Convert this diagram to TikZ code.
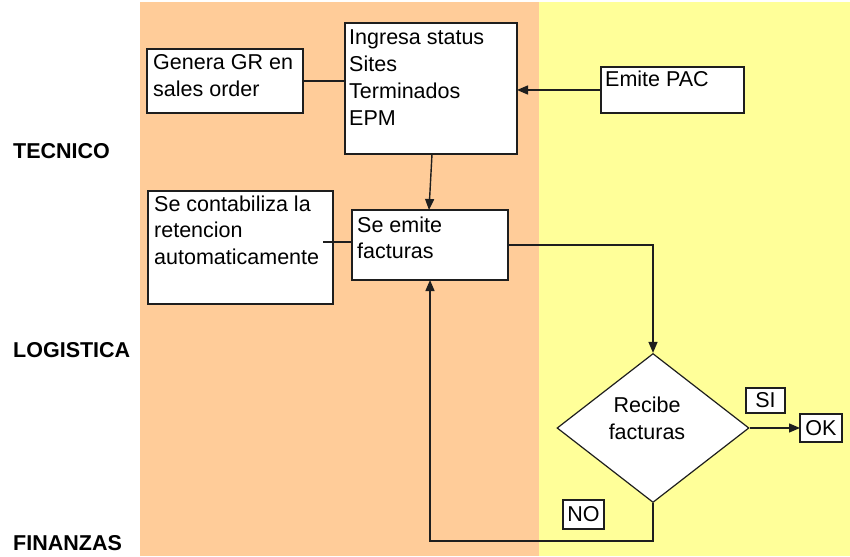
\documentclass[tikz,border=0pt]{standalone}
\usepackage{fontspec}
\setmainfont{Liberation Sans}
\usetikzlibrary{shapes.geometric,arrows.meta,calc}

\definecolor{lanetan}{RGB}{255,204,153}
\definecolor{laneyellow}{RGB}{255,255,153}
\definecolor{inkline}{RGB}{30,30,30}

% stack lines so that the node's baseline is the first line's baseline
\newcommand\stacklines[1]{\vtop{\halign{##\hfil\cr#1\crcr}}}

\tikzset{
  box/.style={draw=inkline, line width=1.4pt, fill=white, inner sep=0pt, outer sep=0pt, anchor=north west},
  boxtext/.style={inner sep=0pt, anchor=base west, font=\fontsize{21.5}{26.7}\selectfont},
  tag/.style={draw=inkline, line width=1.2pt, fill=white, inner sep=0pt, outer sep=0pt, font=\fontsize{21.5}{26}\selectfont},
  lanelabel/.style={inner sep=0pt, anchor=west, font=\fontsize{21.5}{26}\selectfont\bfseries},
  link/.style={draw=inkline, line width=1.4pt},
  arrow/.style={link, -{Triangle[length=11pt,width=9pt]}},
}

\begin{document}
\begin{tikzpicture}[x=1pt, y=-1pt]
  \useasboundingbox (0,0) rectangle (850,556);

  % swimlane backgrounds
  \fill[lanetan] (140,2) rectangle (539,556);
  \fill[laneyellow] (539,2) rectangle (850,556);

  % lane labels
  \node[lanelabel] (lbltec) at (13,151) {TECNICO};
  \node[lanelabel] (lbllog) at (13,350) {LOGISTICA};
  \node[lanelabel] (lblfin) at (13,543) {FINANZAS};

  % process boxes
  \node[box, minimum width=156pt, minimum height=64pt]  (gen)  at (147,49)  {};
  \node[box, minimum width=172pt, minimum height=131pt] (ing)  at (345,23)  {};
  \node[box, minimum width=143pt, minimum height=46pt]  (pac)  at (601,67)  {};
  \node[box, minimum width=185pt, minimum height=113pt] (cont) at (148,191) {};
  \node[box, minimum width=156pt, minimum height=70pt]  (emi)  at (352,210) {};

  \node[boxtext] (gentxt)  at (153,70)  {\stacklines{Genera GR en\cr sales order}};
  \node[boxtext] (ingtxt)  at (349,45)  {\stacklines{Ingresa status\cr Sites\cr Terminados\cr EPM}};
  \node[boxtext] (pactxt)  at (605,87)  {Emite PAC};
  \node[boxtext] (conttxt) at (154,211) {\stacklines{Se contabiliza la\cr retencion\cr automaticamente}};
  \node[boxtext] (emitxt)  at (357,232) {\stacklines{Se emite\cr facturas}};

  % decision
  \node[draw=inkline, line width=1.2pt, fill=white, shape=diamond, inner sep=0pt,
        minimum width=192pt, minimum height=149pt] (dec) at (653,428) {};
  \node[inner sep=0pt, align=center, font=\fontsize{21.5}{27}\selectfont] (dectxt) at (647,418) {Recibe\\facturas};

  % outcome tags
  \node[tag, minimum width=42pt, minimum height=28pt] (ok) at (821,428) {OK};
  \node[tag, minimum width=39pt, minimum height=25pt] (si) at (765.5,400.5) {SI};
  \node[tag, minimum width=41pt, minimum height=29pt] (no) at (583.5,514.5) {NO};

  % connectors
  \draw[link] (gen.east) -- (gen.east -| ing.west);
  \draw[arrow] (pac.west) -- (pac.west -| ing.east);
  \coordinate (ingout) at ($(ing.south west)+(87,0)$);
  \coordinate (emiin)  at ($(emi.north west)+(77,0)$);
  \draw[arrow] (ingout) -- (emiin);
  \coordinate (contout) at ($(cont.east |- emi.west)+(-10,-3)$);
  \draw[link] (contout) -- (contout -| emi.west);
  \draw[arrow] (emi.east) -| (dec.north);
  \draw[arrow] (dec.east) -- (ok.west);
  \coordinate (loopcorner) at ($(dec.south)+(0,38)$);
  \draw[arrow] (dec.south) -- (loopcorner) -| (emi.south);
\end{tikzpicture}
\end{document}
